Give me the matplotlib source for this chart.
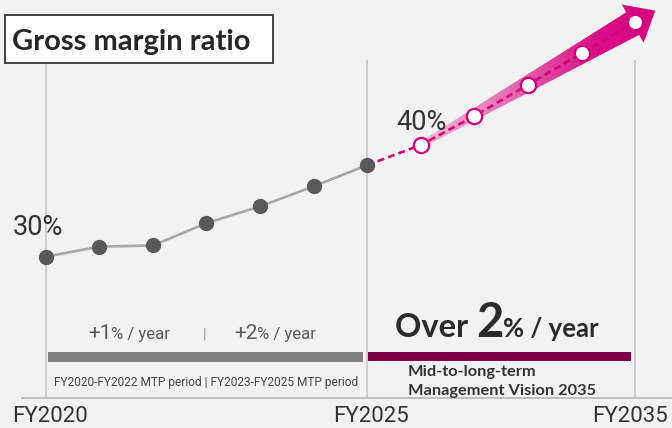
import numpy as np
import matplotlib
matplotlib.use("Agg")
import matplotlib.pyplot as plt
from matplotlib.patches import Rectangle, Polygon
from matplotlib.colors import LinearSegmentedColormap

# data (schematic)
actual = [30.0, 30.9, 31.0, 33.0, 34.5, 36.3, 38.2]
target = [38.2, 40.0, 42.6, 45.4, 48.2, 51.0]
xs_actual = np.arange(0, 7)
xs_target = np.arange(6, 12)
fy_labels = ['FY2020', 'FY2025', 'FY2035']
fy_pos = [0, 6, 11]

W, H = 672, 428
BG = '#f2f2f2'
MAG = '#d6007f'
TXT = '#333333'

fig = plt.figure(figsize=(W / 100, H / 100), dpi=100, facecolor=BG)
ax = fig.add_axes([0, 0, 1, 1])
ax.set_facecolor(BG)
ax.axis('off')
XL = (-0.8526, 11.685)
YL = (14.66, 52.98)
ax.set_xlim(*XL)
ax.set_ylim(*YL)


def at(px, py):
    # pixel position (top-left origin) -> axes fraction
    return px / W, 1 - py / H


def txt(px, py, s, **kw):
    x, y = at(px, py)
    kw.setdefault('color', TXT)
    kw.setdefault('va', 'baseline')
    return ax.text(x, y, s, transform=ax.transAxes, **kw)


def runs(cx, py, parts, family, color):
    # several text pieces of different size on one baseline, centred at cx
    r = fig.canvas.get_renderer()
    ws = []
    for s, size, weight in parts:
        t = txt(0, py, s, fontsize=size, fontweight=weight, family=family)
        ws.append(t.get_window_extent(r).width)
        t.remove()
    x = cx - sum(ws) / 2
    for (s, size, weight), w in zip(parts, ws):
        txt(x, py, s, fontsize=size, fontweight=weight, family=family, ha='left', color=color)
        x += w


# vertical guide lines and base line
ax.vlines(fy_pos, 1 - 398 / H, 1 - 60 / H, transform=ax.get_xaxis_transform(),
          color='#c4c4c4', lw=1.1, zorder=1)
ax.plot([22 / W, 1], [1 - 398 / H] * 2, transform=ax.transAxes, color='#b5b5b5', lw=1.2, zorder=1)

# gradient arrow along the target part
td = ax.transData
p7 = td.transform((xs_target[1], target[1]))
p11 = td.transform((xs_target[-1], target[-1]))
d = (p11 - p7) / np.hypot(*(p11 - p7))
n = np.array([-d[1], d[0]])
start = p7 - 3 * d
base = p11 - 3 * d
tip = base + 26 * d
w0, w1, wh = 3, 13, 22
poly_disp = [start + n * w0, base + n * w1, base + n * wh, tip,
             base - n * wh, base - n * w1, start - n * w0]
poly = td.inverted().transform(poly_disp)
cmap = LinearSegmentedColormap.from_list('arr', [(0, '#f3c0da'), (0.35, '#e477b4'),
                                                 (0.75, '#d80f86'), (1, MAG)])
patch = Polygon(poly, closed=True, facecolor='none', edgecolor='none')
ax.add_patch(patch)
grad = np.linspace(0, 1, 256).reshape(1, -1)
x0, x1 = poly[:, 0].min(), poly[:, 0].max()
y0, y1 = poly[:, 1].min(), poly[:, 1].max()
im = ax.imshow(grad, cmap=cmap, extent=(x0, x1, y0, y1), aspect='auto', zorder=2,
               interpolation='bilinear')
im.set_clip_path(patch)
ax.set_xlim(*XL)
ax.set_ylim(*YL)

# lines and markers
ax.plot(xs_actual, actual, color='#a8a8a8', lw=1.9, zorder=3)
ax.plot(xs_target, target, color=MAG, lw=1.9, dashes=(2.6, 1.6), zorder=3)
ax.plot(xs_actual, actual, 'o', ms=10, color='#595959', zorder=4)
ax.plot(xs_target[1:], target[1:], 'o', ms=11, mfc='white', mec=MAG, mew=1.6, zorder=4)

# title box
bx, by = at(5, 62.7)
ax.add_patch(Rectangle((bx, by), 268 / W, 47.4 / H, transform=ax.transAxes,
                       facecolor='white', edgecolor='#333333', lw=1.3, zorder=5))
txt(12, 50, 'Gross margin ratio', fontsize=21, fontweight='bold', family='Lato',
    color='#262626', zorder=6)

# value labels
txt(63, 235, '30%', fontsize=19.5, family='Roboto', ha='right')
txt(396, 130, '40%', fontsize=19.5, family='Roboto', ha='left')

# FY labels
txt(12, 422, fy_labels[0], fontsize=16, family='Roboto', ha='left')
txt(371, 422, fy_labels[1], fontsize=16, family='Roboto', ha='center')
txt(668, 422, fy_labels[2], fontsize=16, family='Roboto', ha='right')

# MTP period bar
runs(129, 339, [('+1', 15, 'normal'), ('% / year', 12, 'normal')], 'Roboto', '#595959')
runs(275, 339, [('+2', 15, 'normal'), ('% / year', 12, 'normal')], 'Roboto', '#595959')
txt(205, 339, '|', fontsize=11, family='Roboto', ha='center', color='#9a9a9a')
gx, gy = at(48, 362)
ax.add_patch(Rectangle((gx, gy), (363 - 48) / W, 10 / H, transform=ax.transAxes,
                       facecolor='#808080', edgecolor='none'))
txt(206, 386, 'FY2020-FY2022 MTP period | FY2023-FY2025 MTP period', fontsize=8.6,
    family='Roboto', ha='center', color='#444444')

# vision bar
runs(497, 337, [('Over ', 23.5, 'bold'), ('2', 34, 'bold'), ('% / year', 18.5, 'bold')],
     'Lato', '#2b2b2b')
mx, my = at(368, 361)
ax.add_patch(Rectangle((mx, my), (631 - 368) / W, 9 / H, transform=ax.transAxes,
                       facecolor='#7b0046', edgecolor='none'))
txt(408, 376, 'Mid-to-long-term', fontsize=11.8, fontweight='bold', family='Lato', ha='left')
txt(408, 395, 'Management Vision 2035', fontsize=11.8, fontweight='bold', family='Lato', ha='left')

fig.savefig('out.png', dpi=100, facecolor=BG)
